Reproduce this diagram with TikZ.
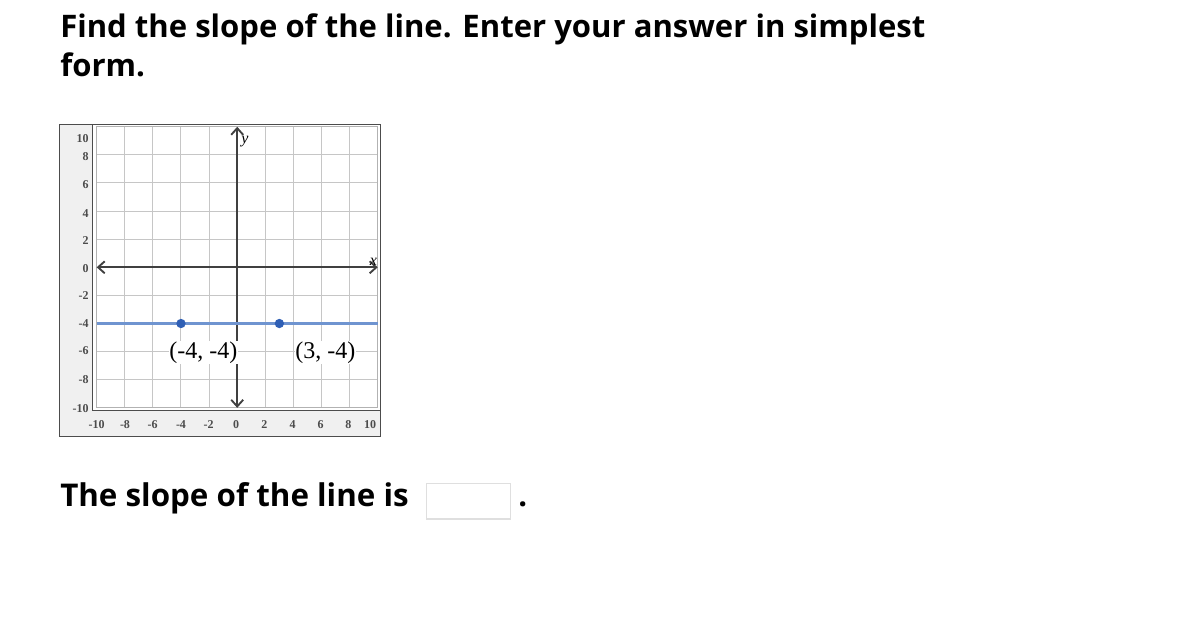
\documentclass[tikz,border=0pt]{standalone}
\usepackage{fontspec}
\setmainfont{Liberation Serif}
\newfontfamily\titlefont{Open Sans}
\usetikzlibrary{arrows.meta}
\definecolor{lineblue}{HTML}{6F94D0}
\definecolor{dotblue}{HTML}{2F5FB5}
\definecolor{panelgray}{HTML}{F0F0F0}
\begin{document}
\begin{tikzpicture}[x=0.75pt,y=-0.75pt,
  titletext/.style={anchor=base west, inner sep=0pt, font=\titlefont\bfseries\fontsize{23.3}{28}\selectfont},
  panel/.style={fill=panelgray, draw=black!70, line width=0.75pt},
  gridline/.style={draw=gray!45, line width=0.75pt},
  axisline/.style={draw=black!75, line width=1.4pt, {Straight Barb[length=5pt,width=9pt]}-{Straight Barb[length=5pt,width=9pt]}},
  blueline/.style={draw=lineblue, line width=1.6pt},
  dot/.style={circle, fill=dotblue, inner sep=0pt, minimum size=7pt},
  ptlabel/.style={fill=white, inner sep=0.6pt, font=\fontsize{18}{20}\selectfont},
  ticklabel/.style={inner sep=0pt, text=black!70, font=\bfseries\fontsize{9}{10}\selectfont},
  axislabel/.style={inner sep=0pt, font=\itshape\fontsize{12}{14}\selectfont}]
\useasboundingbox (0,0) rectangle (1200,630);
\fill[white] (0,0) rectangle (1200,630);

% title
\node[titletext] (t1) at (60,38) {Find the slope of the line. Enter your answer in simplest};
\node[titletext] (t2) at (60,77) {form.};

% graph panels
\draw[panel] (59,125) rectangle (380,437);
\draw[fill=white, draw=black!70, line width=0.75pt] (92,125) rectangle (380,411);

\begin{scope}[shift={(237.2,267.3)}, x=10.54pt, y=10.54pt]
  \draw[gridline] (-10,-10) grid[step=2] (10,10);
  \draw[draw=gray!60, line width=0.75pt] (-10,-10) rectangle (10,10);
  \coordinate (xl) at (-10,0);
  \coordinate (xr) at (10,0);
  \coordinate (yt) at (0,10);
  \coordinate (yb) at (0,-10);
  \draw[axisline] (xl) -- (xr);
  \draw[axisline] (yb) -- (yt);
  \coordinate (bl) at (-10,-4);
  \coordinate (br) at (10,-4);
  \draw[blueline] (bl) -- (br);
  \node[dot] (p1) at (-4,-4) {};
  \node[dot] (p2) at (3,-4) {};
  \node[ptlabel] (l1) at (-2.41,-6.05) {(-4, -4)};
  \node[ptlabel] (l2) at (6.28,-6.05) {(3, -4)};
\end{scope}

\node[axislabel] (ylab) at (245,141.7) {y};
\node[axislabel] (xlab) at (373.3,261.7) {x};

% y tick labels
\node[ticklabel, anchor=east] (ty10) at (89,139) {10};
\node[ticklabel, anchor=east] (ty8) at (89,156.7) {8};
\node[ticklabel, anchor=east] (ty6) at (89,184.3) {6};
\node[ticklabel, anchor=east] (ty4) at (89,213.3) {4};
\node[ticklabel, anchor=east] (ty2) at (89,240.7) {2};
\node[ticklabel, anchor=east] (ty0) at (89,268.3) {0};
\node[ticklabel, anchor=east] (tym2) at (89,296) {-2};
\node[ticklabel, anchor=east] (tym4) at (89,323.3) {-4};
\node[ticklabel, anchor=east] (tym6) at (89,351) {-6};
\node[ticklabel, anchor=east] (tym8) at (89,380) {-8};
\node[ticklabel, anchor=east] (tym10) at (89,408.3) {-10};

% x tick labels
\node[ticklabel] (txm10) at (96.7,425) {-10};
\node[ticklabel] (txm8) at (125,425) {-8};
\node[ticklabel] (txm6) at (152.7,425) {-6};
\node[ticklabel] (txm4) at (181,425) {-4};
\node[ticklabel] (txm2) at (208.7,425) {-2};
\node[ticklabel] (tx0) at (236,425) {0};
\node[ticklabel] (tx2) at (264.3,425) {2};
\node[ticklabel] (tx4) at (292.7,425) {4};
\node[ticklabel] (tx6) at (320.7,425) {6};
\node[ticklabel] (tx8) at (348.3,425) {8};
\node[ticklabel] (tx10) at (370,425) {10};

% answer line
\node[titletext, font=\titlefont\bfseries\fontsize{23.5}{28}\selectfont] (s) at (60,507) {The slope of the line is};
\node[draw=gray!25, line width=0.9pt, anchor=north west, minimum width=63pt, minimum height=26.5pt, inner sep=0pt] (ans) at (426,483) {};
\node[titletext] (dotp) at (518,507) {.};
\end{tikzpicture}
\end{document}
